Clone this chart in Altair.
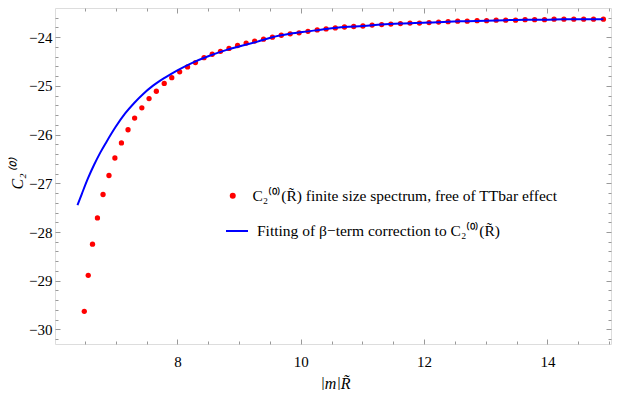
import altair as alt
import numpy as np
import pandas as pd

# finite size spectrum points
pts_x = [6.491, 6.555, 6.624, 6.704, 6.795, 6.891, 6.987, 7.093, 7.200, 7.307,
         7.424, 7.541, 7.659, 7.787, 7.909, 8.037, 8.165, 8.293, 8.432, 8.565,
         8.699, 8.837, 8.976, 9.115, 9.253, 9.397, 9.541, 9.685, 9.829, 9.973,
         10.117, 10.267, 10.411, 10.560, 10.709, 10.859, 11.008, 11.157, 11.312, 11.461,
         11.616, 11.771, 11.925, 12.080, 12.235, 12.389, 12.544, 12.699, 12.859, 13.013,
         13.168, 13.323, 13.483, 13.637, 13.792, 13.952, 14.107, 14.267, 14.427, 14.587,
         14.747, 14.907]
pts_y = [-29.63, -28.89, -28.25, -27.71, -27.23, -26.84, -26.48, -26.17, -25.90, -25.66,
         -25.45, -25.26, -25.11, -24.95, -24.83, -24.71, -24.61, -24.52, -24.42, -24.35,
         -24.29, -24.23, -24.17, -24.12, -24.08, -24.04, -24.00, -23.96, -23.93, -23.91,
         -23.88, -23.85, -23.83, -23.81, -23.79, -23.78, -23.77, -23.75, -23.74, -23.73,
         -23.72, -23.71, -23.71, -23.70, -23.69, -23.68, -23.67, -23.67, -23.66, -23.66,
         -23.65, -23.65, -23.65, -23.64, -23.64, -23.64, -23.63, -23.63, -23.63, -23.63,
         -23.63, -23.63]

# beta-term fit curve
fit_x = [6.38, 6.45, 6.55, 6.65, 6.75, 6.85, 7.0, 7.15, 7.3, 7.45,
         7.6, 7.8, 8.0, 8.25, 8.5, 8.75, 9.0, 9.3, 9.541, 9.829,
         10.117, 10.411, 10.709, 11.008, 11.312, 11.616, 12.08, 12.389, 12.699, 13.013,
         13.323, 13.637, 13.952, 14.267, 14.587, 14.907]
fit_y = [-27.45, -27.22, -26.90, -26.62, -26.37, -26.15, -25.84, -25.57, -25.35, -25.16,
         -25.00, -24.83, -24.68, -24.52, -24.39, -24.28, -24.19, -24.09, -24.00, -23.93,
         -23.88, -23.83, -23.79, -23.77, -23.74, -23.72, -23.70, -23.68, -23.67, -23.66,
         -23.65, -23.64, -23.64, -23.63, -23.63, -23.63]

LAB_PTS = "C₂⁽⁰⁾(R̃) finite size spectrum, free of TTbar effect"
LAB_FIT = "Fitting of β−term correction to C₂⁽⁰⁾(R̃)"
X_TITLE = "|m|R̃"
Y_TITLE = "C₂⁽⁰⁾"

FONT = "Liberation Serif"
FRAME = "#999999"

df_pts = pd.DataFrame({"x": pts_x, "y": pts_y, "s": LAB_PTS})
df_fit = pd.DataFrame({"x": fit_x, "y": fit_y, "s": LAB_FIT})

x_ticks = [float(v) for v in np.round(np.arange(6.5, 15.01, 0.5), 2)]
y_ticks = [float(v) for v in np.round(np.arange(-30.2, -23.45, 0.2), 2)]

xscale = alt.Scale(domain=[6.016, 15.03], nice=False, zero=False)
yscale = alt.Scale(domain=[-30.30, -23.40], nice=False, zero=False)

x_major = "abs(datum.value % 2) < 0.001"
y_major = "abs(datum.value - round(datum.value)) < 0.001"

common = dict(domain=False, grid=False, tickColor=FRAME, tickWidth=1,
              labelFont=FONT, labelFontSize=15, labelColor="black",
              titleFont=FONT, titleFontSize=16, titleColor="black", titleFontWeight="normal")

ax_bottom = alt.Axis(orient="bottom", values=x_ticks,
                     tickSize=alt.ExprRef(f"{x_major} ? -5 : -3"),
                     labelExpr=f"{x_major} ? format(datum.value, 'd') : ''",
                     labelPadding=15, labelBaseline="top",
                     title=X_TITLE, titleFontStyle="italic",
                     titleX=280, titleY=44, titleBaseline="alphabetic", titleAngle=0,
                     **common)
ax_left = alt.Axis(orient="left", values=y_ticks,
                   tickSize=alt.ExprRef(f"{y_major} ? -5 : -3"),
                   labelExpr=f"{y_major} ? format(datum.value, 'd') : ''",
                   labelPadding=8,
                   title=Y_TITLE, titleFontStyle="italic",
                   titleX=-46, titleY=166, titleAngle=-90, titleBaseline="top",
                   **common)
ax_top = alt.Axis(orient="top", values=x_ticks, labels=False, title=None,
                  tickSize=alt.ExprRef(f"{x_major} ? -5 : -3"),
                  domain=False, grid=False, tickColor=FRAME)
ax_right = alt.Axis(orient="right", values=y_ticks, labels=False, title=None,
                    tickSize=alt.ExprRef(f"{y_major} ? -5 : -3"),
                    domain=False, grid=False, tickColor=FRAME)

points = alt.Chart(df_pts).mark_circle(size=28, opacity=1).encode(
    x=alt.X("x:Q", scale=xscale, axis=ax_bottom),
    y=alt.Y("y:Q", scale=yscale, axis=ax_left),
    color=alt.Color("s:N", scale=alt.Scale(domain=[LAB_PTS], range=["#ff0000"]),
                    legend=alt.Legend(orient="none", legendX=170, legendY=180, title=None,
                                      padding=0, symbolSize=36, symbolType="circle",
                                      labelOffset=12, labelFont=FONT, labelFontSize=15.5,
                                      labelLimit=600, labelColor="black")),
)

fit = alt.Chart(df_fit).mark_line(strokeWidth=2, interpolate="monotone").encode(
    x=alt.X("x:Q", scale=xscale, axis=ax_top),
    y=alt.Y("y:Q", scale=yscale, axis=ax_right),
    stroke=alt.Stroke("s:N", scale=alt.Scale(domain=[LAB_FIT], range=["#0000ff"]),
                      legend=alt.Legend(orient="none", legendX=170, legendY=211, title=None,
                                        padding=0, symbolSize=484, symbolType="stroke",
                                        symbolStrokeWidth=2,
                                        labelOffset=8, labelFont=FONT, labelFontSize=15.5,
                                        labelLimit=600, labelColor="black")),
)

chart = alt.layer(points, fit).resolve_axis(
    x="independent", y="independent"
).resolve_scale(color="independent", stroke="independent").properties(
    width=556, height=336,
    autosize=alt.AutoSizeParams(type="none"),
    padding={"left": 47, "top": 0, "right": 4, "bottom": 46},
).configure_view(stroke=FRAME, strokeWidth=1).configure(font=FONT).configure_axis(
    labelFont=FONT, titleFont=FONT
)

chart.save("out.html", embed_options={"renderer": "svg", "actions": False})
